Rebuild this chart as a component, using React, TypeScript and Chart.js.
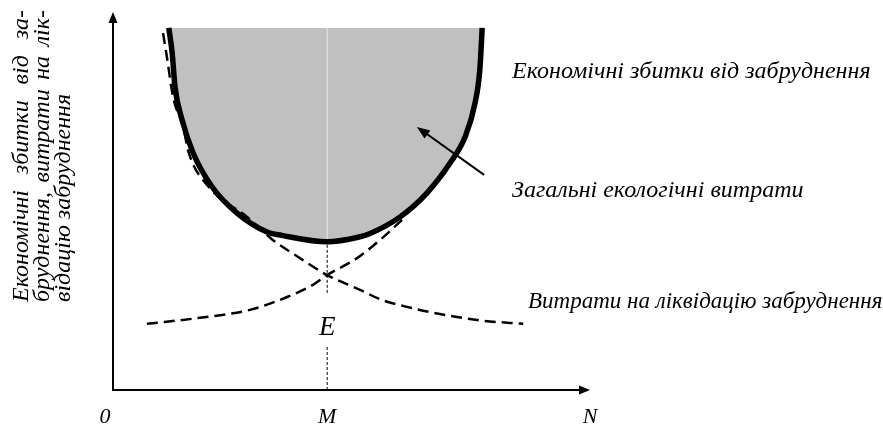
import React, { useEffect, useRef } from 'react';
import { Chart, registerables } from 'chart.js';

Chart.register(...registerables);

// ---- data (arbitrary units: x 0..100, y 0..100) ----
const M_VALUE = 44.9;
const TOP_VALUE = 95.8;

const xTickLabels = ['0', 'M', 'N'];
const xTickValues = [0, 44.9, 100];

// Загальні екологічні витрати (thick U curve)
const totalX = [11.7, 12.4, 13.0, 14.5, 16.8, 20.8, 26.0, 32.3, 35.4, 44.9, 51.4, 53.9, 60.2, 65.8, 70.7, 73.8, 75.9, 76.9, 77.4];
const totalY = [95.8, 89.2, 80.2, 71.4, 62.7, 53.7, 46.8, 41.8, 40.9, 39.2, 40.4, 41.4, 45.8, 52.1, 60.1, 66.9, 75.9, 84.7, 95.8];

// Економічні збитки від забруднення (decreasing dashed)
const damageX = [10.5, 11.3, 12.6, 14.7, 15.9, 20.1, 28.1, 33.5, 38.2, 44.9, 51.8, 56.4, 61.6, 66.5, 72.1, 77.8, 86.0];
const damageY = [94.4, 88.1, 77.5, 69.6, 62.7, 53.7, 45.8, 39.7, 35.7, 30.4, 26.5, 23.8, 22.0, 20.6, 19.3, 18.3, 17.5];

// Витрати на ліквідацію забруднення (increasing dashed)
const costX = [7.1, 18.2, 28.7, 36.5, 41.9, 44.9, 51.2, 56.0, 60.6];
const costY = [17.5, 19.1, 21.2, 24.6, 27.8, 30.4, 34.9, 39.7, 45.0];

// vertical guide at M: dotted part below the minimum (gap around the label E)
const guideLowY = [0, 11.9, null, 25.7, 39.2];
const guideHighY = [39.2, 95.8];

const yLabelLines = ['Економічні збитки від за-', 'бруднення, витрати на лік-', 'відацію забруднення'];
const curveLabels = ['Економічні збитки від забруднення', 'Загальні екологічні витрати', 'Витрати на ліквідацію забруднення'];
const pointLabel = 'E';

const zip = (xs: number[], ys: (number | null)[]) => xs.map((x, i) => ({ x, y: ys[i] }));

const FONT = "'Liberation Serif', 'Times New Roman', serif";

function arrowHead(ctx: CanvasRenderingContext2D, x1: number, y1: number, x2: number, y2: number, len: number, half: number) {
  const a = Math.atan2(y2 - y1, x2 - x1);
  ctx.beginPath();
  ctx.moveTo(x2, y2);
  ctx.lineTo(x2 - len * Math.cos(a) + half * Math.sin(a), y2 - len * Math.sin(a) - half * Math.cos(a));
  ctx.lineTo(x2 - len * Math.cos(a) - half * Math.sin(a), y2 - len * Math.sin(a) + half * Math.cos(a));
  ctx.closePath();
  ctx.fill();
}

function justified(ctx: CanvasRenderingContext2D, text: string, width: number | null) {
  const words = text.split(' ');
  const natural = ctx.measureText(text).width;
  if (width === null || words.length < 2 || natural >= width) {
    ctx.fillText(text, 0, 0);
    return;
  }
  const wordsW = words.reduce((s, w) => s + ctx.measureText(w).width, 0);
  const gap = (width - wordsW) / (words.length - 1);
  let x = 0;
  words.forEach((w) => {
    ctx.fillText(w, x, 0);
    x += ctx.measureText(w).width + gap;
  });
}

const decorPlugin = {
  id: 'decor',
  afterDatasetsDraw(chart: any) {
    const ctx: CanvasRenderingContext2D = chart.ctx;
    const xs = chart.scales.x;
    const ys = chart.scales.y;
    const px = (v: number) => xs.getPixelForValue(v);
    const py = (v: number) => ys.getPixelForValue(v);
    ctx.save();
    ctx.strokeStyle = '#000';
    ctx.fillStyle = '#000';
    ctx.setLineDash([]);

    // axes
    const x0 = px(0), y0 = py(0);
    ctx.lineWidth = 2;
    ctx.beginPath();
    ctx.moveTo(x0, y0 + 1);
    ctx.lineTo(x0, py(100) + 8);
    ctx.moveTo(x0 - 1, y0);
    ctx.lineTo(px(100) - 8, y0);
    ctx.stroke();
    arrowHead(ctx, x0, y0, x0, py(100), 11, 4.5);
    arrowHead(ctx, x0, y0, px(100), y0, 11, 4.5);

    // pointer arrow to the shaded area
    const ax1 = px(77.8), ay1 = py(56.9), ax2 = px(63.7), ay2 = py(69.6);
    const ang = Math.atan2(ay2 - ay1, ax2 - ax1);
    ctx.lineWidth = 2;
    ctx.beginPath();
    ctx.moveTo(ax1, ay1);
    ctx.lineTo(ax2 - 8 * Math.cos(ang), ay2 - 8 * Math.sin(ang));
    ctx.stroke();
    arrowHead(ctx, ax1, ay1, ax2, ay2, 13, 5);

    // texts
    ctx.textBaseline = 'alphabetic';
    ctx.font = `italic 22px ${FONT}`;
    ctx.textAlign = 'center';
    xTickLabels.forEach((t, i) => {
      const off = i === 0 ? -8 : 0;
      ctx.fillText(t, px(xTickValues[i]) + off, y0 + 33);
    });

    ctx.textAlign = 'left';
    ctx.font = `italic 24px ${FONT}`;
    ctx.fillText(curveLabels[0], 512, 78);
    ctx.fillText(curveLabels[1], 512, 197);
    ctx.font = `italic 23px ${FONT}`;
    ctx.fillText(curveLabels[2], 528, 308);

    ctx.textAlign = 'center';
    ctx.font = `italic 27px ${FONT}`;
    ctx.fillText(pointLabel, px(M_VALUE), 335);

    // rotated y-axis title (justified lines as in the source)
    ctx.font = `italic 24px ${FONT}`;
    ctx.textAlign = 'left';
    const baseX = [28, 49, 70];
    const widths = [292, 292, null];
    yLabelLines.forEach((line, i) => {
      ctx.save();
      ctx.translate(baseX[i], 302);
      ctx.rotate(-Math.PI / 2);
      justified(ctx, line, widths[i]);
      ctx.restore();
    });
    ctx.restore();
  },
};

export default function App() {
  const ref = useRef<HTMLCanvasElement | null>(null);
  useEffect(() => {
    if (!ref.current) return;
    const chart = new Chart(ref.current, {
      type: 'line',
      data: {
        datasets: [
          {
            label: 'total',
            data: zip(totalX, totalY),
            borderColor: '#000',
            borderWidth: 5.5,
            backgroundColor: '#c0c0c0',
            fill: { value: TOP_VALUE },
            cubicInterpolationMode: 'monotone',
            pointRadius: 0,
            order: 0,
          },
          {
            label: 'guideHigh',
            data: guideHighY.map((y) => ({ x: M_VALUE, y })),
            borderColor: '#e8e8e8',
            borderWidth: 1,
            fill: false,
            pointRadius: 0,
            order: 1,
          },
          {
            label: 'damage',
            data: zip(damageX, damageY),
            borderColor: '#000',
            borderWidth: 2.5,
            borderDash: [11, 6],
            fill: false,
            cubicInterpolationMode: 'monotone',
            pointRadius: 0,
            order: 2,
          },
          {
            label: 'cost',
            data: zip(costX, costY),
            borderColor: '#000',
            borderWidth: 2.5,
            borderDash: [11, 6],
            fill: false,
            cubicInterpolationMode: 'monotone',
            pointRadius: 0,
            order: 3,
          },
          {
            label: 'guideLow',
            data: guideLowY.map((y) => ({ x: M_VALUE, y })),
            borderColor: '#000',
            borderWidth: 1,
            borderDash: [3, 2],
            fill: false,
            spanGaps: false,
            pointRadius: 0,
            order: 4,
          },
        ],
      } as any,
      options: {
        animation: false,
        responsive: false,
        devicePixelRatio: 1,
        layout: { padding: { left: 113, right: 293, top: 12, bottom: 36 } },
        scales: {
          x: { type: 'linear', min: 0, max: 100, display: false },
          y: { type: 'linear', min: 0, max: 100, display: false },
        },
        plugins: {
          legend: { display: false },
          tooltip: { enabled: false },
          filler: { drawTime: 'beforeDatasetsDraw' },
        },
        events: [],
      } as any,
      plugins: [decorPlugin],
    });
    return () => chart.destroy();
  }, []);
  return (
    <div style={{ position: 'absolute', left: 0, top: 0, width: 883, height: 426, background: '#fff' }}>
      <canvas ref={ref} width={883} height={426} style={{ display: 'block' }} />
    </div>
  );
}
